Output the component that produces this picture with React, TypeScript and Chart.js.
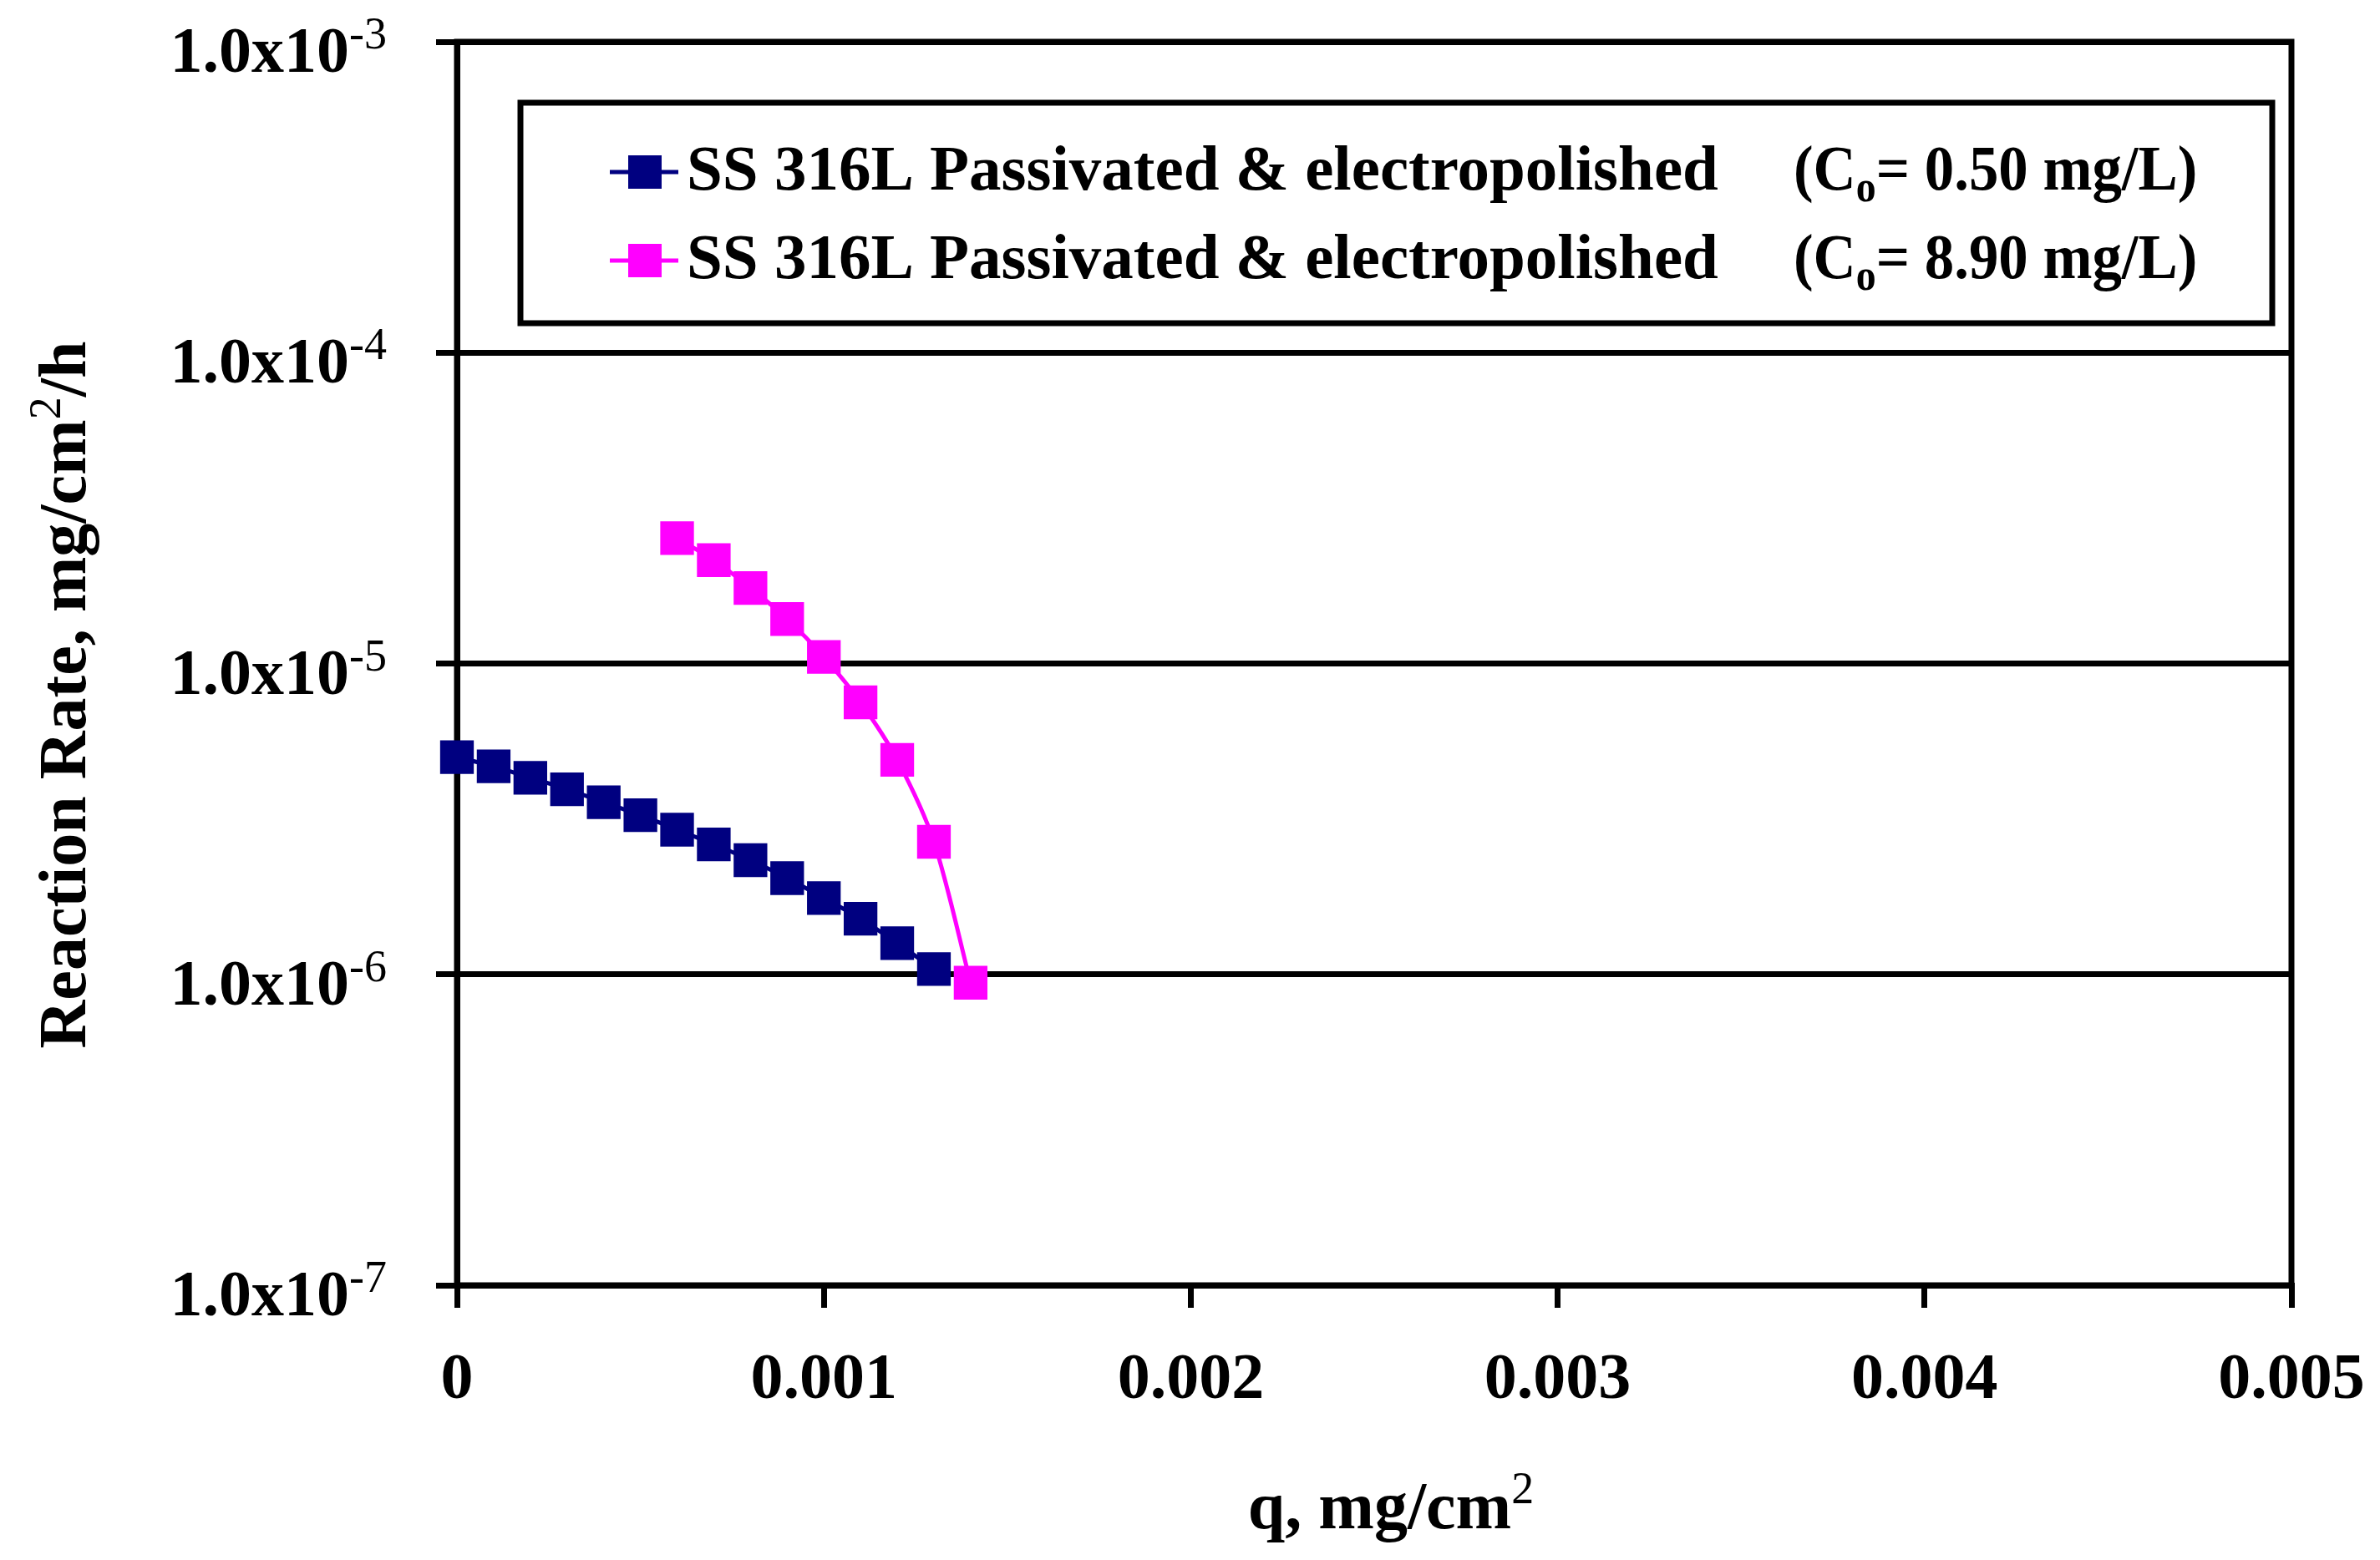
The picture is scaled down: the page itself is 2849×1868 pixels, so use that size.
import React, { useEffect, useRef } from "react";
import { Chart, registerables } from "chart.js";

Chart.register(...registerables);

// ---------- data ----------
const Q_BLUE = [0, 0.0001, 0.0002, 0.0003, 0.0004, 0.0005, 0.0006, 0.0007, 0.0008, 0.0009, 0.001, 0.0011, 0.0012, 0.0013];
const RATE_BLUE = [5.0e-6, 4.67e-6, 4.29e-6, 3.94e-6, 3.58e-6, 3.25e-6, 2.92e-6, 2.62e-6, 2.33e-6, 2.04e-6, 1.76e-6, 1.51e-6, 1.26e-6, 1.04e-6];

const Q_PINK = [0.0006, 0.0007, 0.0008, 0.0009, 0.001, 0.0011, 0.0012, 0.0013, 0.0014];
const RATE_PINK = [2.53e-5, 2.15e-5, 1.75e-5, 1.39e-5, 1.05e-5, 7.5e-6, 4.9e-6, 2.67e-6, 9.4e-7];

const SERIES_NAMES = ["SS 316L Passivated & electropolished", "SS 316L Passivated & electropolished"];
const SERIES_CONC = ["= 0.50 mg/L)", "= 8.90 mg/L)"];

const X_TICKS = [0, 0.001, 0.002, 0.003, 0.004, 0.005];
const X_TICK_LABELS = ["0", "0.001", "0.002", "0.003", "0.004", "0.005"];
const Y_TICKS = [1e-7, 1e-6, 1e-5, 1e-4, 1e-3];
const Y_TICK_MANTISSA = "1.0x10";
const Y_TICK_EXP = ["-7", "-6", "-5", "-4", "-3"];

const X_TITLE = "q, mg/cm";
const Y_TITLE_A = "Reaction Rate, mg/cm";
const Y_TITLE_B = "/h";

const NAVY = "#000080";
const MAGENTA = "#FF00FF";
const FF = '"Liberation Serif", "Times New Roman", serif';

type Part = { text: string; font: string; dy: number };

function partsWidth(ctx: CanvasRenderingContext2D, parts: Part[]) {
  let w = 0;
  for (const p of parts) {
    ctx.font = p.font;
    w += ctx.measureText(p.text).width;
  }
  return w;
}

function drawParts(ctx: CanvasRenderingContext2D, parts: Part[], x: number, y: number, align: "left" | "right" | "center") {
  const w = partsWidth(ctx, parts);
  let cx = align === "left" ? x : align === "right" ? x - w : x - w / 2;
  ctx.textAlign = "left";
  ctx.textBaseline = "alphabetic";
  for (const p of parts) {
    ctx.font = p.font;
    ctx.fillText(p.text, cx, y + p.dy);
    cx += ctx.measureText(p.text).width;
  }
}

const textPlugin = {
  id: "customText",
  afterDraw(chart: any) {
    const ctx: CanvasRenderingContext2D = chart.ctx;
    const { left, right, top, bottom } = chart.chartArea;
    const xs = chart.scales.x;
    const ys = chart.scales.y;
    ctx.save();
    ctx.fillStyle = "#000";
    ctx.strokeStyle = "#000";

    // y tick labels
    Y_TICKS.forEach((v, i) => {
      const py = ys.getPixelForValue(v);
      drawParts(
        ctx,
        [
          { text: Y_TICK_MANTISSA, font: `bold 78px ${FF}`, dy: 0 },
          { text: Y_TICK_EXP[i], font: `54px ${FF}`, dy: -28 },
        ],
        left - 84,
        py + 36,
        "right"
      );
    });

    // x tick labels
    X_TICKS.forEach((v, i) => {
      const px = xs.getPixelForValue(v);
      drawParts(ctx, [{ text: X_TICK_LABELS[i], font: `bold 78px ${FF}`, dy: 0 }], px, bottom + 135, "center");
    });

    // x title
    drawParts(
      ctx,
      [
        { text: X_TITLE, font: `bold 80px ${FF}`, dy: 0 },
        { text: "2", font: `54px ${FF}`, dy: -30 },
      ],
      (left + right) / 2 + 20,
      bottom + 291,
      "center"
    );

    // y title
    ctx.save();
    ctx.translate(75, 832);
    ctx.rotate(-Math.PI / 2);
    drawParts(
      ctx,
      [
        { text: Y_TITLE_A, font: `bold 80px ${FF}`, dy: 0 },
        { text: "2", font: `54px ${FF}`, dy: -30 },
        { text: Y_TITLE_B, font: `bold 80px ${FF}`, dy: 0 },
      ],
      0,
      27,
      "center"
    );
    ctx.restore();

    // legend
    const lx1 = 623, ly1 = 123, lx2 = 2720, ly2 = 387;
    ctx.fillStyle = "#fff";
    ctx.fillRect(lx1, ly1, lx2 - lx1, ly2 - ly1);
    ctx.lineWidth = 7;
    ctx.strokeStyle = "#000";
    ctx.strokeRect(lx1, ly1, lx2 - lx1, ly2 - ly1);
    const rowsY = [206, 312];
    const colors = [NAVY, MAGENTA];
    rowsY.forEach((ry, i) => {
      ctx.strokeStyle = colors[i];
      ctx.lineWidth = 5;
      ctx.beginPath();
      ctx.moveTo(730, ry);
      ctx.lineTo(812, ry);
      ctx.stroke();
      ctx.fillStyle = colors[i];
      ctx.fillRect(752, ry - 20, 40, 40);
      ctx.fillStyle = "#000";
      drawParts(ctx, [{ text: SERIES_NAMES[i], font: `bold 77px ${FF}`, dy: 0 }], 822, ry + 21, "left");
      ctx.save();
      ctx.translate(2147, ry + 21);
      ctx.scale(0.92, 1);
      drawParts(
        ctx,
        [
          { text: "(C", font: `bold 77px ${FF}`, dy: 0 },
          { text: "o", font: `bold 52px ${FF}`, dy: 14 },
          { text: SERIES_CONC[i], font: `bold 77px ${FF}`, dy: 0 },
        ],
        0,
        0,
        "left"
      );
      ctx.restore();
    });

    ctx.restore();
  },
};

const framePlugin = {
  id: "plotFrame",
  beforeDatasetsDraw(chart: any) {
    const ctx: CanvasRenderingContext2D = chart.ctx;
    const { left, right, top, bottom } = chart.chartArea;
    ctx.save();
    ctx.strokeStyle = "#000";
    ctx.lineWidth = 7;
    ctx.strokeRect(left, top, right - left, bottom - top);
    ctx.restore();
  },
};

export default function App() {
  const ref = useRef<HTMLCanvasElement | null>(null);
  useEffect(() => {
    if (!ref.current) return;
    const chart = new Chart(ref.current, {
      type: "line",
      data: {
        datasets: [
          {
            label: SERIES_NAMES[0],
            data: Q_BLUE.map((q, i) => ({ x: q, y: RATE_BLUE[i] })),
            borderColor: NAVY,
            backgroundColor: NAVY,
            pointBackgroundColor: NAVY,
            pointStyle: "rect",
            pointRadius: 28.5,
            pointBorderWidth: 0,
            borderWidth: 5,
            tension: 0.3,
            clip: false,
            order: 1,
          },
          {
            label: SERIES_NAMES[1],
            data: Q_PINK.map((q, i) => ({ x: q, y: RATE_PINK[i] })),
            borderColor: MAGENTA,
            backgroundColor: MAGENTA,
            pointBackgroundColor: MAGENTA,
            pointStyle: "rect",
            pointRadius: 28.5,
            pointBorderWidth: 0,
            borderWidth: 5,
            tension: 0.3,
            clip: false,
            order: 0,
          },
        ],
      },
      options: {
        responsive: false,
        animation: false,
        layout: { padding: { top: 50, right: 106, left: 0, bottom: 0 } },
        plugins: { legend: { display: false }, tooltip: { enabled: false }, title: { display: false } },
        scales: {
          x: {
            type: "linear",
            min: 0,
            max: 0.005,
            afterBuildTicks: (s: any) => {
              s.ticks = X_TICKS.map((v) => ({ value: v }));
            },
            afterFit: (s: any) => {
              s.height = 329;
            },
            ticks: { display: false },
            grid: { drawOnChartArea: false, drawTicks: true, tickLength: 27, tickWidth: 7, tickColor: "#000", color: "#000", lineWidth: 7 },
            border: { display: true, color: "#000", width: 7 },
          },
          y: {
            type: "logarithmic",
            min: 1e-7,
            max: 1e-3,
            afterBuildTicks: (s: any) => {
              s.ticks = Y_TICKS.map((v) => ({ value: v }));
            },
            afterFit: (s: any) => {
              s.width = 547;
            },
            ticks: { display: false },
            grid: { drawOnChartArea: true, drawTicks: true, tickLength: 25, tickWidth: 7, tickColor: "#000", color: "#000", lineWidth: 7 },
            border: { display: true, color: "#000", width: 7 },
          },
        },
      } as any,
      plugins: [framePlugin, textPlugin],
    });
    return () => chart.destroy();
  }, []);

  return (
    <div style={{ position: "absolute", left: 0, top: 0, width: 2849, height: 1868, background: "#fff" }}>
      <canvas ref={ref} width={2849} height={1868} style={{ display: "block" }} />
    </div>
  );
}
